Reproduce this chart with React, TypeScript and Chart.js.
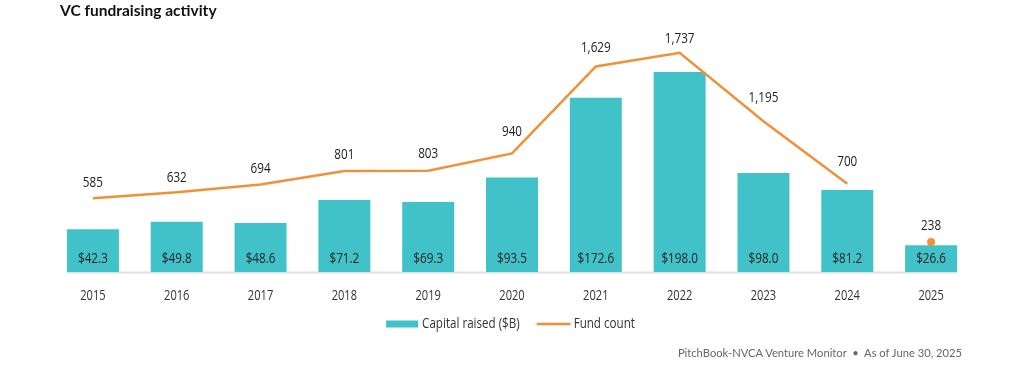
import React, { useEffect, useRef } from 'react';
import { Chart, registerables } from 'chart.js';

Chart.register(...registerables);

const years = ['2015', '2016', '2017', '2018', '2019', '2020', '2021', '2022', '2023', '2024', '2025'];
const capitalRaised = [42.3, 49.8, 48.6, 71.2, 69.3, 93.5, 172.6, 198.0, 98.0, 81.2, 26.6];
const fundCount = [585, 632, 694, 801, 803, 940, 1629, 1737, 1195, 700, 238];
const capitalLabels = capitalRaised.map((v) => '$' + v.toFixed(1));
const countLabels = fundCount.map((v) => v.toLocaleString('en-US'));
const legendLabels = ['Capital raised ($B)', 'Fund count'];

const TEAL = '#41c2c8';
const ORANGE = '#f0913a';
const FONT = '"Open Sans", "Noto Sans", sans-serif';
const SQUEEZE = 0.78;
// how far each fund-count label sits above its point (style, px)
const LABEL_LIFT = [15, 14.5, 15.5, 16, 16.5, 22, 19, 14.5, 23, 22, 16.5];

function condensedText(ctx: CanvasRenderingContext2D, text: string, x: number, y: number, size: number, align: CanvasTextAlign, color: string, sx = SQUEEZE) {
  ctx.save();
  ctx.font = size + 'px ' + FONT;
  ctx.fillStyle = color;
  ctx.textAlign = align;
  ctx.textBaseline = 'middle';
  ctx.translate(x, y);
  ctx.scale(sx, 1);
  ctx.fillText(text, 0, 0);
  ctx.restore();
}

function condensedWidth(ctx: CanvasRenderingContext2D, text: string, size: number, sx = SQUEEZE) {
  ctx.save();
  ctx.font = size + 'px ' + FONT;
  const w = ctx.measureText(text).width * sx;
  ctx.restore();
  return w;
}

const labelPlugin = {
  id: 'valueLabels',
  beforeDatasetsDraw(chart: any) {
    const ctx = chart.ctx;
    const meta = chart.getDatasetMeta(0);
    const first = meta.data[0] as any;
    const last = meta.data[meta.data.length - 1] as any;
    const y = chart.scales.y.getPixelForValue(0);
    ctx.save();
    ctx.strokeStyle = '#e0e0dc';
    ctx.lineWidth = 2;
    ctx.beginPath();
    ctx.moveTo(first.x - first.width / 2, y + 0.5);
    ctx.lineTo(last.x + last.width / 2, y + 0.5);
    ctx.stroke();
    ctx.restore();
  },
  afterDatasetsDraw(chart: any) {
    const ctx = chart.ctx as CanvasRenderingContext2D;
    const barMeta = chart.getDatasetMeta(0);
    barMeta.data.forEach((bar: any, i: number) => {
      condensedText(ctx, capitalLabels[i], bar.x, bar.base - 13, 15, 'center', '#222');
    });
    const lineMeta = chart.getDatasetMeta(1);
    lineMeta.data.forEach((pt: any, i: number) => {
      condensedText(ctx, countLabels[i], pt.x, pt.y - LABEL_LIFT[i], 15, 'center', '#222');
    });
    // category tick labels from the x scale
    const xs = chart.scales.x;
    const base = chart.chartArea.bottom;
    xs.getLabels().forEach((lab: string, i: number) => {
      condensedText(ctx, lab, xs.getPixelForValue(i), base + 24, 15, 'center', '#333', 0.74);
    });
    // legend
    const ly = base + 52;
    const lsize = 14.5;
    const lsx = 0.8;
    const w1 = condensedWidth(ctx, legendLabels[0], lsize, lsx);
    const w2 = condensedWidth(ctx, legendLabels[1], lsize, lsx);
    const total = 32 + 4 + w1 + 17 + 34 + 3 + w2;
    const cx = (chart.chartArea.left + chart.chartArea.right) / 2 - 1.5;
    let x = cx - total / 2;
    ctx.save();
    ctx.fillStyle = TEAL;
    ctx.fillRect(x, ly - 3.5, 32, 7);
    ctx.restore();
    x += 36;
    condensedText(ctx, legendLabels[0], x, ly, lsize, 'left', '#333', lsx);
    x += w1 + 17;
    ctx.save();
    ctx.strokeStyle = ORANGE;
    ctx.lineWidth = 2.5;
    ctx.beginPath();
    ctx.moveTo(x, ly);
    ctx.lineTo(x + 34, ly);
    ctx.stroke();
    ctx.restore();
    x += 37;
    condensedText(ctx, legendLabels[1], x, ly, lsize, 'left', '#333', lsx);
  },
};

export default function App() {
  const canvasRef = useRef<HTMLCanvasElement | null>(null);

  useEffect(() => {
    if (!canvasRef.current) return;
    const chart = new Chart(canvasRef.current, {
      type: 'bar',
      data: {
        labels: years,
        datasets: [
          {
            type: 'bar',
            label: legendLabels[0],
            data: capitalRaised,
            backgroundColor: TEAL,
            borderWidth: 0,
            barPercentage: 0.62,
            categoryPercentage: 1,
            yAxisID: 'y',
            order: 1,
          } as any,
          {
            type: 'line',
            label: legendLabels[1],
            data: fundCount,
            borderColor: ORANGE,
            backgroundColor: ORANGE,
            borderWidth: 2.5,
            tension: 0,
            pointRadius: (c: any) => (c.dataIndex === 10 ? 4 : 0),
            pointHoverRadius: 0,
            pointBorderWidth: 0,
            segment: {
              borderColor: (c: any) => (c.p1DataIndex === 10 ? 'rgba(0,0,0,0)' : ORANGE),
            },
            yAxisID: 'y1',
            order: 0,
          } as any,
        ],
      },
      options: {
        animation: false,
        responsive: false,
        maintainAspectRatio: false,
        layout: { padding: { left: 51, right: 49, top: 30, bottom: 93 } },
        plugins: {
          tooltip: { enabled: false },
          title: { display: false },
          legend: { display: false },
        },
        scales: {
          x: { display: false },
          y: { display: false, min: 0, max: 239.6 },
          y1: { display: false, min: 0, max: 1917.6, position: 'right' },
        },
      } as any,
      plugins: [labelPlugin],
    });
    return () => chart.destroy();
  }, []);

  return (
    <div style={{ position: 'absolute', left: 0, top: 0, width: 1022, height: 365, background: '#fff' }}>
      <canvas ref={canvasRef} width={1022} height={365} style={{ display: 'block' }} />
      <div
        style={{
          position: 'absolute',
          left: 60,
          top: 0,
          fontFamily: 'Lato, "Open Sans", sans-serif',
          fontWeight: 700,
          fontSize: 15.5,
          lineHeight: '20px',
          color: '#111',
          whiteSpace: 'nowrap',
        }}
      >
        VC fundraising activity
      </div>
      <div
        style={{
          position: 'absolute',
          right: 60,
          top: 346,
          fontFamily: 'Lato, "Open Sans", sans-serif',
          fontSize: 11.2,
          lineHeight: '14px',
          color: '#666',
          whiteSpace: 'nowrap',
        }}
      >
        PitchBook-NVCA Venture Monitor&nbsp; •&nbsp; As of June 30, 2025
      </div>
    </div>
  );
}
